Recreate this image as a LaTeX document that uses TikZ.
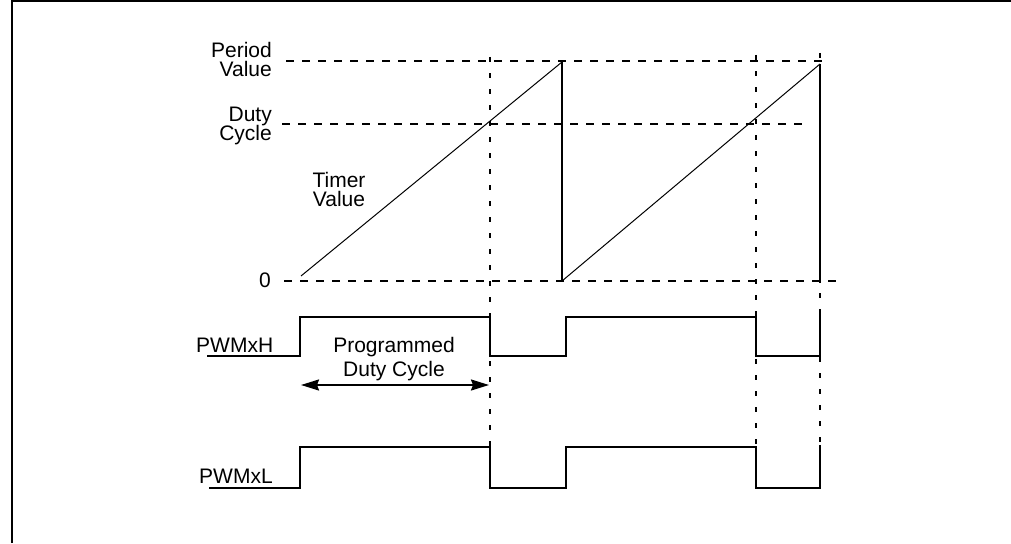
\documentclass[tikz,border=0pt]{standalone}
\usepackage{fontspec}
\setmainfont{Liberation Sans}
\usetikzlibrary{arrows.meta}
\begin{document}
\begin{tikzpicture}[x=1pt,y=-1pt,
  frameline/.style={line width=2pt},
  sig/.style={line width=2.6pt, line join=miter},
  ramp/.style={line width=1pt},
  drop/.style={line width=2pt},
  hdash/.style={line width=2pt, dash pattern=on 8pt off 8pt},
  vdash/.style={line width=2.2pt, dash pattern=on 5pt off 11pt},
  lbl/.style={inner sep=0pt, font=\fontsize{21}{20}\selectfont},
  dim/.style={line width=2pt, {Stealth[length=18pt,width=11pt,inset=2pt]}-{Stealth[length=18pt,width=11pt,inset=2pt]}}
]
\useasboundingbox (0,0) rectangle (1011,543);
% frame
\draw[frameline] (12,543) -- (12,1) -- (1011,1);
% horizontal reference levels
\draw[hdash] (286,61) -- (828,61);
\draw[hdash] (282,124) -- (809,124);
\draw[hdash] (284,281) -- (838,281);
% vertical markers
\draw[vdash] (490,57) -- (490,447);
\draw[vdash] (756,55) -- (756,447);
\draw[vdash] (820,53) -- (820,445);
% timer ramps
\coordinate (r1s) at (301,276);
\coordinate (r1e) at (562,62);
\coordinate (r1b) at (562,281);
\coordinate (r2e) at (820,64);
\coordinate (r2b) at (820,283);
\draw[ramp] (r1s) -- (r1e);
\draw[drop] (r1e) -- (r1b);
\draw[ramp] (r1b) -- (r2e);
\draw[drop] (r2e) -- (r2b);
% PWMxH
\draw[sig] (207,356) -- (300,356) -- (300,317) -- (490,317) -- (490,356)
  -- (566,356) -- (566,317) -- (756,317) -- (756,356) -- (820,356) -- (820,310);
% PWMxL
\draw[sig] (209,488) -- (300,488) -- (300,447) -- (490,447) -- (490,488)
  -- (566,488) -- (566,447) -- (756,447) -- (756,488) -- (820,488) -- (820,445);
% programmed duty cycle arrow
\coordinate (dl) at (301,385);
\coordinate (dr) at (489,385);
\draw[dim] (dl) -- (dr);
% labels
\node[lbl, anchor=base east] (pv1) at (272,58) {Period};
\node[lbl, anchor=base east] (pv2) at (272,77) {Value};
\node[lbl, anchor=base east] (dc1) at (272,121) {Duty};
\node[lbl, anchor=base east] (dc2) at (272,140) {Cycle};
\node[lbl, anchor=base] (tv1) at (339,187) {Timer};
\node[lbl, anchor=base] (tv2) at (339,206) {Value};
\node[lbl, anchor=base east] (zero) at (271,287) {0};
\node[lbl, anchor=base west] (pwmh) at (196,352) {PWMxH};
\node[lbl, anchor=base] (pdc1) at (394,352) {Programmed};
\node[lbl, anchor=base] (pdc2) at (394,376) {Duty Cycle};
\node[lbl, anchor=base west] (pwml) at (199,483) {PWMxL};
\end{tikzpicture}
\end{document}
